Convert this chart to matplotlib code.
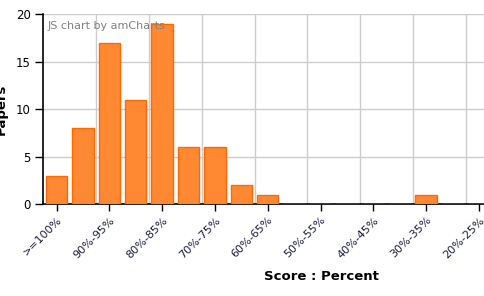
import matplotlib
matplotlib.use("Agg")
import matplotlib.pyplot as plt
import numpy as np

categories = [">=100%", "95%-100%", "90%-95%", "85%-90%", "80%-85%", "75%-80%",
              "70%-75%", "65%-70%", "60%-65%", "55%-60%", "50%-55%", "45%-50%",
              "40%-45%", "35%-40%", "30%-35%", "25%-30%", "20%-25%", "15%-20%",
              "10%-15%", "5%-10%", "0%-5%"]
papers = [3, 8, 17, 11, 19, 6, 6, 2, 1, 0, 0, 0, 0, 0, 1, 0, 0, 0, 0, 0, 0]
y_ticks = [0, 5, 10, 15, 20]

W, H = 484, 296
fig = plt.figure(figsize=(W / 100, H / 100), dpi=100)
left, right, top, bottom = 43.3, 597.7, 14.3, 204.0
ax = fig.add_axes([left / W, 1 - bottom / H, (right - left) / W, (bottom - top) / H])

x = np.arange(len(categories))
ax.bar(x, papers, width=0.81, color="#FF8933", edgecolor="#FF6A00", linewidth=1.0, zorder=3)

ax.set_xlim(-0.5, len(categories) - 0.5)
ax.set_ylim(0, 20)
ax.set_yticks(y_ticks)
ax.set_yticklabels([str(v) for v in y_ticks], fontsize=8.5, color="#000000")

shown = x[::2]
ax.set_xticks(shown)
ax.set_xticklabels([categories[i] for i in shown], rotation=45, ha="right", va="top",
                   rotation_mode="anchor", fontsize=8, color="#1a1a40")
ax.tick_params(axis="x", length=5, width=1, pad=3)
ax.tick_params(axis="y", length=6, width=1, pad=3)

# grid
for v in y_ticks[1:]:
    ax.axhline(v, color="#cccccc", linewidth=1, zorder=1)
for b in range(2, len(categories), 2):
    ax.axvline(b - 0.5, color="#cccccc", linewidth=1, zorder=1)

for s in ["top", "right"]:
    ax.spines[s].set_visible(False)
ax.spines["left"].set_linewidth(1.2)
ax.spines["bottom"].set_linewidth(1.2)

fig.text(-5 / W, 1 - 109 / H, "Papers", rotation=90, fontsize=9.5, fontweight="bold",
         ha="left", va="center")
fig.text(321.7 / W, 1 - 276 / H, "Score : Percent", fontsize=9.5, fontweight="bold",
         ha="center", va="center")
fig.text(48 / W, 1 - 26 / H, "JS chart by amCharts", fontsize=8, color="#808080",
         ha="left", va="center")

fig.savefig("out.png", dpi=100)
